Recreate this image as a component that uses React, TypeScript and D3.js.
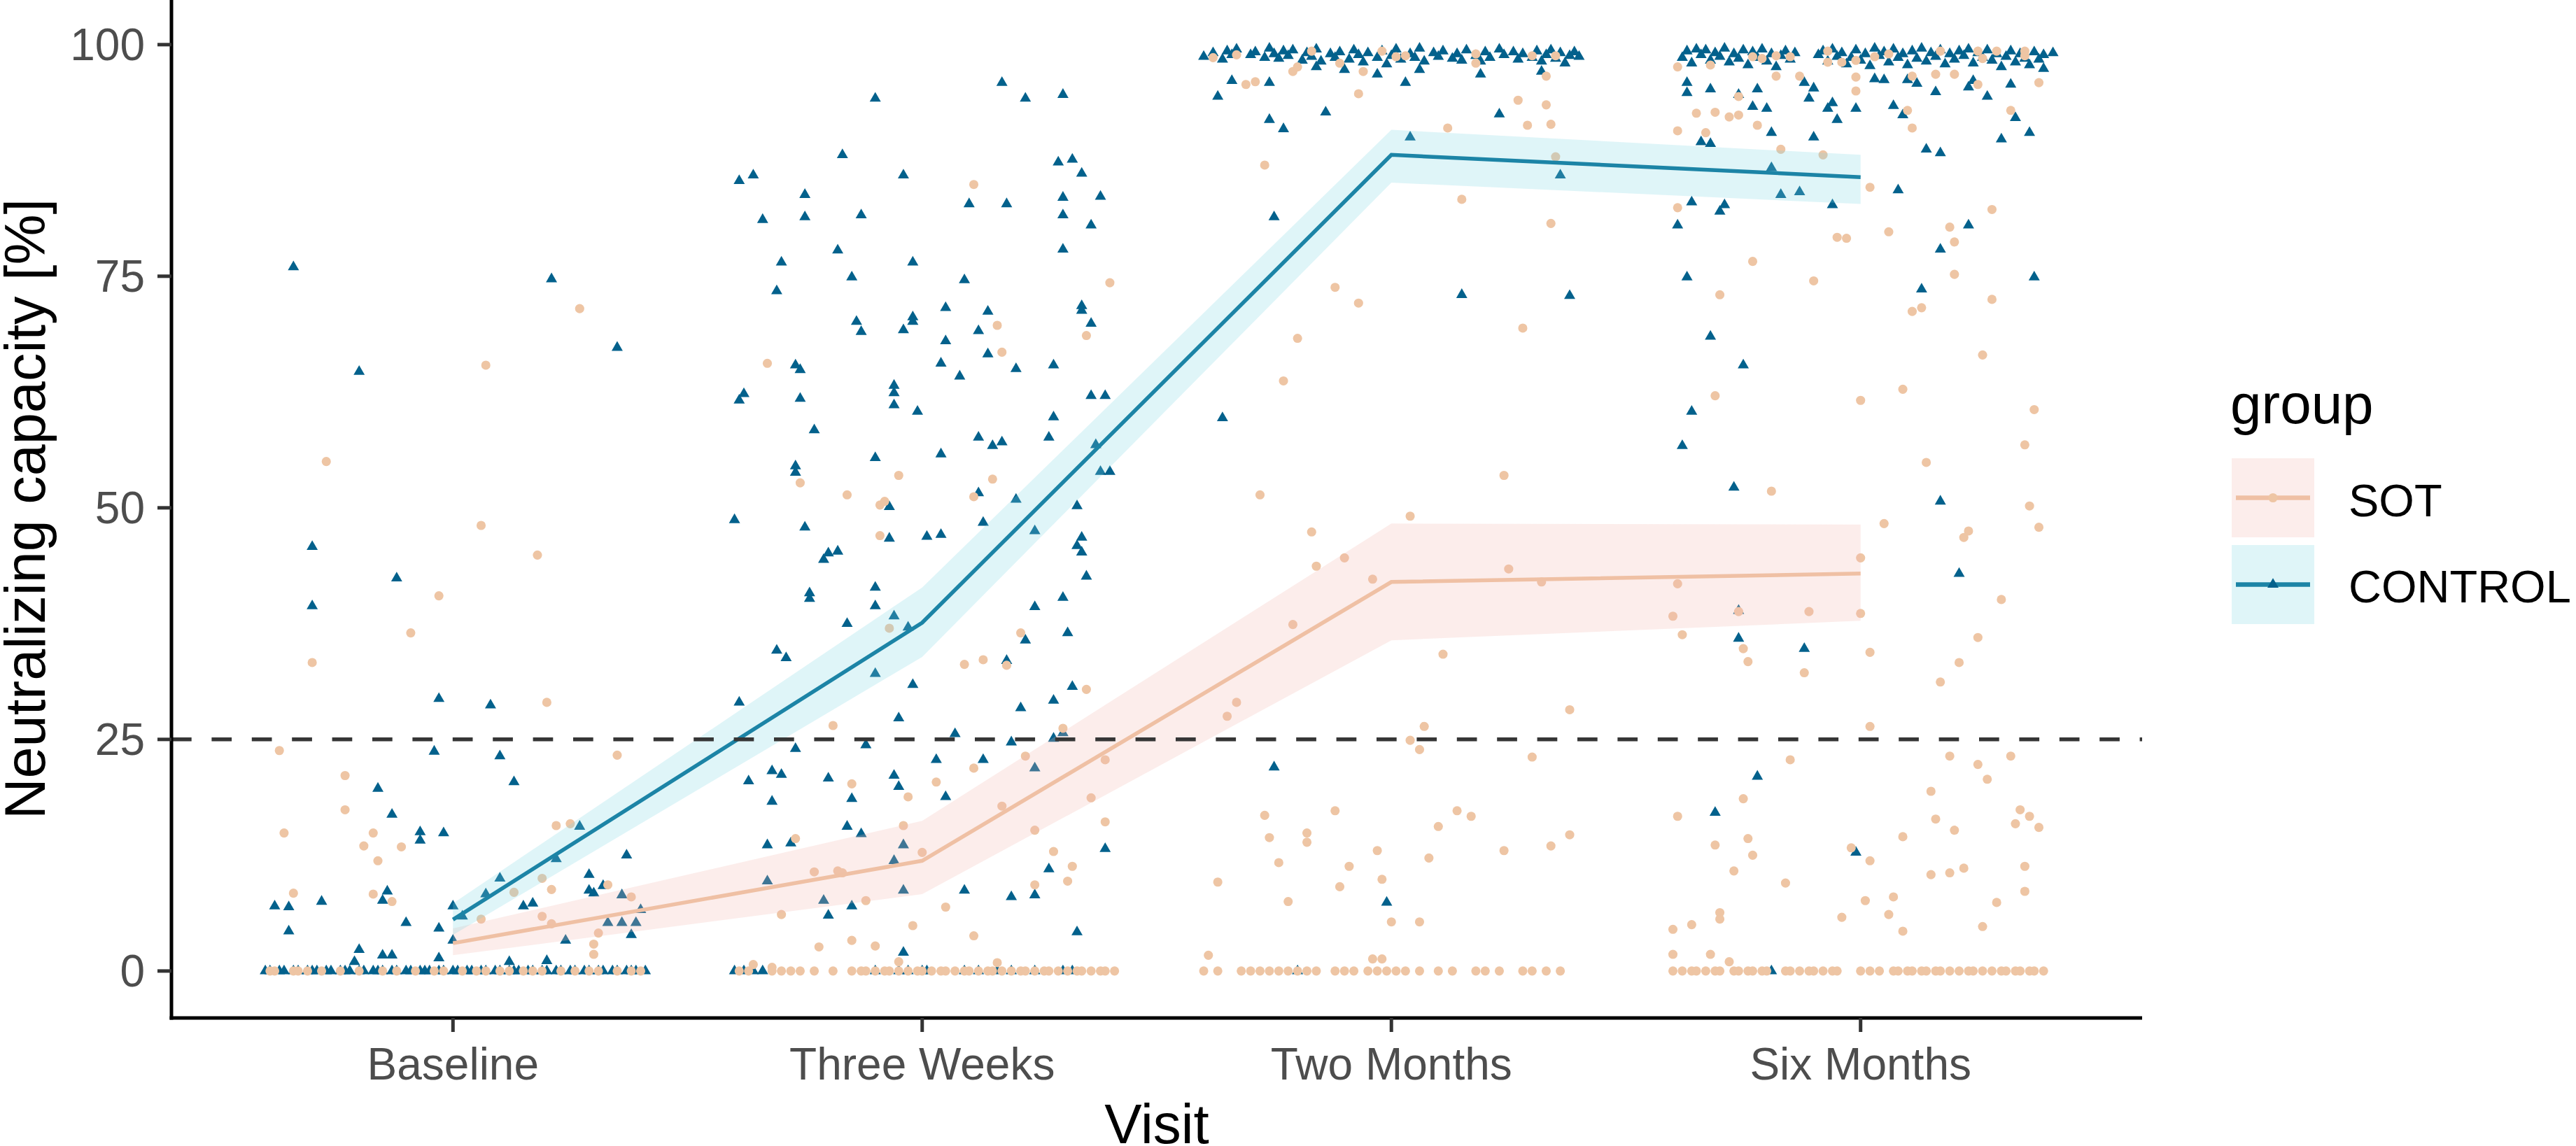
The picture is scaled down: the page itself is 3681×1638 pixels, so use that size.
import React from "react";
import * as d3 from "d3";

const W = 3681;
const H = 1638;

const visits = ["Baseline", "Three Weeks", "Two Months", "Six Months"];
const yTicks = [0, 25, 50, 75, 100];
const threshold = 25;
const groupNames = ["SOT", "CONTROL"];

const sotMean = [3.0, 11.9, 42.0, 42.9];
const sotLower = [1.7, 8.3, 35.7, 37.8];
const sotUpper = [4.6, 16.2, 48.3, 48.2];
const controlMean = [5.55, 37.6, 88.1, 85.7];
const controlLower = [3.9, 33.9, 85.1, 82.8];
const controlUpper = [7.3, 41.4, 90.8, 88.1];

// points: [jitter offset in category units, value]
const controlBaseline: number[][] = [
  [-0.34, 76.0], [0.21, 74.7], [-0.2, 64.7], [0.35, 67.3], [-0.3, 45.8], [-0.3, 39.4], [-0.12, 42.4],
  [-0.03, 29.4], [0.08, 28.7], [-0.04, 23.7], [0.1, 23.2], [0.13, 20.4], [-0.16, 19.7], [-0.13, 16.9],
  [-0.07, 15.0], [-0.07, 14.1], [-0.02, 14.9], [0.27, 15.6], [0.22, 12.1], [0.37, 12.5], [0.1, 10.0],
  [0.07, 8.3], [0.29, 10.4], [0.29, 8.7], [0.3, 8.4], [0.32, 9.2], [0.36, 8.2], [0.4, 6.6], [-0.38, 7.0],
  [-0.35, 6.9], [-0.28, 7.5], [-0.14, 8.6], [-0.15, 7.6], [0.0, 7.0], [-0.35, 4.3], [-0.1, 5.2],
  [-0.03, 4.6], [0.0, 3.3], [0.15, 7.0], [0.17, 7.3], [0.33, 5.2], [0.36, 5.2], [0.39, 5.2], [0.38, 3.9],
  [0.24, 3.3], [-0.2, 2.3], [-0.15, 1.7], [-0.13, 1.7], [-0.03, 1.4], [-0.21, 1.0], [0.12, 1.0],
  [0.2, 1.1], [0.02, 5.9],
];
const controlBaselineZeros = [
  -0.4, -0.39, -0.37, -0.36, -0.34, -0.33, -0.31, -0.3, -0.29, -0.27, -0.26, -0.24, -0.23, -0.22, -0.2,
  -0.19, -0.17, -0.16, -0.15, -0.13, -0.12, -0.1, -0.09, -0.07, -0.06, -0.05, -0.03, -0.02, 0.0, 0.01,
  0.03, 0.04, 0.06, 0.07, 0.09, 0.1, 0.12, 0.13, 0.14, 0.16, 0.17, 0.19, 0.2, 0.22, 0.23, 0.25, 0.26,
  0.28, 0.29, 0.31, 0.32, 0.34, 0.35, 0.37, 0.38, 0.39, 0.41,
];
const sotBaseline: number[][] = [
  [0.27, 71.5], [0.07, 65.4], [-0.27, 55.0], [0.06, 48.1], [0.18, 44.9], [-0.03, 40.5], [-0.09, 36.5],
  [-0.3, 33.3], [0.2, 29.0], [-0.37, 23.8], [0.35, 23.3], [-0.23, 21.1], [-0.23, 17.4], [-0.36, 14.9],
  [-0.17, 14.9], [-0.19, 13.5], [-0.11, 13.4], [-0.16, 11.9], [0.22, 15.7], [0.25, 15.9], [-0.34, 8.4],
  [-0.17, 8.3], [-0.13, 7.5], [0.19, 10.0], [0.13, 8.5], [0.21, 8.8], [0.33, 9.3], [0.38, 8.0],
  [0.06, 5.6], [0.19, 5.9], [0.21, 5.1], [0.31, 4.1], [0.3, 2.9], [0.3, 1.8],
];
const sotBaselineZeros = [
  -0.39, -0.38, -0.34, -0.33, -0.31, -0.28, -0.24, -0.2, -0.15, -0.12, -0.08, -0.04, -0.02, 0.02, 0.05,
  0.07, 0.1, 0.12, 0.15, 0.17, 0.19, 0.23, 0.26, 0.29, 0.31, 0.35, 0.38, 0.4,
];

const controlThreeWeeks: number[][] = [
  [-0.1, 94.2], [0.17, 95.9], [0.22, 94.2], [0.3, 94.6], [-0.17, 88.1], [-0.39, 85.3], [-0.36, 85.9],
  [-0.04, 85.9], [0.29, 87.3], [0.32, 87.6], [0.34, 86.1], [-0.25, 83.8], [-0.25, 81.4], [-0.34, 81.1],
  [-0.13, 81.6], [0.1, 82.8], [0.18, 82.8], [0.3, 83.5], [0.38, 83.6], [0.3, 81.6], [0.36, 80.5],
  [0.3, 77.9], [-0.18, 77.8], [-0.3, 76.5], [-0.02, 76.5], [-0.15, 74.9], [0.09, 74.6], [-0.31, 73.4],
  [0.05, 71.6], [0.14, 71.2], [0.34, 71.8], [0.34, 71.3], [-0.14, 70.1], [-0.13, 69.0], [-0.02, 70.6],
  [-0.02, 70.1], [-0.04, 69.2], [0.12, 69.1], [0.36, 69.9], [0.05, 68.0], [-0.27, 65.4], [-0.26, 64.9],
  [0.04, 65.6], [0.14, 66.6], [0.2, 65.0], [0.28, 65.4], [0.08, 64.2], [-0.39, 61.6], [-0.38, 62.3],
  [-0.26, 61.8], [-0.06, 63.2], [-0.06, 62.4], [-0.06, 61.1], [-0.01, 60.4], [0.36, 62.1], [0.39, 62.1],
  [-0.23, 58.4], [0.28, 59.8], [0.27, 57.6], [0.12, 57.6], [0.15, 56.7], [0.17, 57.1], [-0.1, 55.4],
  [0.04, 55.8], [0.37, 56.8], [0.38, 53.9], [0.4, 53.9], [-0.27, 54.5], [-0.27, 53.8], [0.12, 51.6],
  [0.2, 50.9], [-0.07, 50.1], [0.33, 50.2], [0.13, 48.4], [-0.4, 48.7], [-0.25, 47.9], [0.24, 47.5],
  [-0.07, 46.7], [0.01, 46.9], [0.04, 47.1], [0.34, 46.8], [0.33, 45.9], [0.34, 45.2], [-0.21, 44.4],
  [-0.2, 45.1], [-0.18, 45.3], [0.35, 42.6], [-0.1, 41.4], [-0.24, 40.8], [-0.24, 40.2], [-0.1, 39.4],
  [-0.06, 38.3], [0.24, 39.3], [0.3, 40.3], [-0.16, 37.5], [-0.03, 37.1], [0.31, 36.5], [0.22, 35.7],
  [-0.31, 34.6], [-0.29, 33.8], [0.18, 33.5], [-0.1, 32.1], [-0.02, 30.9], [0.32, 30.7], [0.28, 29.2],
  [0.21, 28.4], [-0.39, 29.0], [-0.05, 27.3], [0.07, 25.6], [0.3, 25.7], [0.28, 25.1], [0.19, 24.7],
  [-0.27, 24.0], [-0.12, 24.4], [0.13, 22.8], [-0.32, 21.6], [-0.3, 21.2], [-0.37, 20.5], [-0.2, 20.8],
  [-0.06, 21.1], [-0.05, 19.9], [0.03, 22.8], [0.24, 21.9], [0.05, 18.8], [-0.32, 18.3], [-0.15, 18.6],
  [-0.16, 15.6], [-0.13, 14.8], [-0.33, 13.6], [-0.28, 13.8], [-0.04, 13.6], [0.39, 13.2], [-0.06, 11.9],
  [0.27, 11.0], [-0.33, 9.7], [-0.04, 8.7], [0.09, 8.7], [0.19, 8.0], [0.24, 8.2], [-0.21, 7.6],
  [-0.2, 6.0], [-0.15, 7.0], [0.33, 4.2], [-0.04, 2.0],
];
const controlThreeWeeksZeros = [
  -0.4, -0.38, -0.36, -0.34, -0.1, -0.05, -0.03, 0.0, 0.01, 0.09, 0.12, 0.16, 0.19, 0.24, 0.3, 0.32,
];
const sotThreeWeeks: number[][] = [
  [0.11, 84.9], [0.4, 74.3], [-0.33, 65.6], [0.16, 69.7], [0.17, 66.8], [0.35, 68.6], [-0.26, 52.7],
  [-0.05, 53.5], [-0.16, 51.4], [0.15, 53.1], [0.11, 51.2], [-0.09, 50.3], [-0.08, 50.7], [-0.09, 47.0],
  [-0.07, 37.0], [0.21, 36.5], [0.09, 33.1], [0.13, 33.6], [0.18, 33.0], [0.35, 30.4], [-0.19, 26.5],
  [0.3, 26.2], [0.22, 23.2], [0.39, 22.8], [-0.15, 20.2], [0.11, 21.9], [0.03, 20.4], [-0.03, 18.8],
  [0.36, 18.7], [-0.04, 15.7], [0.17, 17.8], [0.39, 16.1], [-0.27, 14.3], [0.0, 12.8], [0.24, 15.2],
  [0.28, 12.9], [0.32, 11.3], [-0.23, 10.7], [-0.18, 10.8], [-0.17, 10.6], [0.31, 9.7], [0.24, 9.3],
  [-0.12, 7.6], [-0.3, 6.1], [0.05, 6.9], [-0.02, 4.9], [0.11, 3.8], [-0.22, 2.6], [-0.15, 3.3],
  [-0.1, 2.7], [-0.05, 1.0], [0.16, 0.9], [-0.36, 0.7], [-0.32, 0.4],
];
const sotThreeWeeksZeros = [
  -0.39, -0.37, -0.32, -0.3, -0.28, -0.26, -0.23, -0.19, -0.15, -0.13, -0.12, -0.1, -0.08, -0.07, -0.05,
  -0.03, -0.01, 0.0, 0.02, 0.04, 0.05, 0.07, 0.09, 0.1, 0.12, 0.14, 0.15, 0.17, 0.19, 0.21, 0.22, 0.24,
  0.26, 0.27, 0.29, 0.31, 0.33, 0.34, 0.36, 0.38, 0.39, 0.41,
];

const controlTwoMonths: number[][] = [
  [-0.4, 98.7], [-0.38, 99.1], [-0.36, 98.4], [-0.35, 99.3], [-0.34, 98.9], [-0.33, 99.5],
  [-0.3, 98.9], [-0.29, 99.2], [-0.27, 98.6], [-0.26, 99.6], [-0.25, 99.0], [-0.24, 98.5], [-0.23, 99.3],
  [-0.22, 98.8], [-0.21, 99.4], [-0.19, 98.3], [-0.18, 99.1], [-0.17, 98.7], [-0.16, 99.5], [-0.15, 98.2],
  [-0.13, 99.0], [-0.12, 98.6], [-0.11, 99.2], [-0.09, 98.4], [-0.08, 99.4], [-0.07, 98.9], [-0.06, 98.1],
  [-0.05, 99.1], [-0.03, 98.6], [-0.02, 99.3], [-0.01, 97.9], [0.0, 98.8], [0.01, 99.5], [0.02, 98.4],
  [0.04, 99.0], [0.05, 98.6], [0.06, 99.6], [0.07, 98.2], [0.09, 99.1], [0.1, 98.7], [0.11, 99.3],
  [0.13, 98.5], [0.14, 99.0], [0.15, 98.3], [0.16, 99.4], [0.18, 98.8], [0.19, 98.2], [0.2, 99.2],
  [0.21, 98.6], [0.23, 99.5], [0.24, 98.9], [0.26, 99.2], [0.27, 98.4], [0.28, 99.0], [0.3, 98.6],
  [0.31, 99.3], [0.32, 98.2], [0.33, 98.9], [0.34, 99.4], [0.35, 98.5], [0.36, 99.1], [0.37, 98.0],
  [0.38, 98.8], [0.39, 99.2], [0.4, 98.7],
  [-0.34, 96.1], [-0.26, 95.9], [-0.37, 94.4], [-0.14, 92.7], [-0.26, 91.9], [-0.23, 90.9], [0.04, 90.0],
  [0.03, 95.9], [0.23, 92.5], [0.36, 85.9], [-0.25, 81.4], [0.15, 73.0], [0.38, 72.9], [-0.36, 59.7],
  [-0.25, 22.0], [-0.01, 7.4], [-0.1, 97.3], [-0.03, 96.8], [0.06, 97.3], [0.19, 96.8], [0.32, 97.1],
  [-0.16, 97.6],
];
const controlTwoMonthsZeros = [-0.2];
const sotTwoMonths: number[][] = [
  [-0.38, 98.6], [-0.33, 98.9], [-0.17, 99.3], [-0.02, 99.3], [0.01, 98.7], [0.03, 98.8], [0.18, 99.0],
  [0.3, 98.8], [0.35, 98.8], [-0.11, 98.0], [-0.06, 97.1], [-0.21, 97.1], [-0.2, 97.6], [0.18, 98.0],
  [-0.31, 95.7], [-0.29, 96.0], [-0.07, 94.7], [0.33, 96.6], [0.27, 94.0], [0.33, 93.5], [0.29, 91.3],
  [0.34, 91.4], [0.12, 91.0], [-0.27, 87.0], [0.35, 87.9], [0.15, 83.3], [0.34, 80.7], [-0.12, 73.8],
  [-0.07, 72.1], [0.28, 69.4], [-0.2, 68.3], [-0.23, 63.7], [0.24, 53.5], [-0.28, 51.4], [0.04, 49.1],
  [-0.17, 47.4], [-0.1, 44.6], [-0.16, 43.7], [-0.04, 42.3], [0.25, 43.4], [0.32, 42.0], [-0.21, 37.4],
  [0.11, 34.2], [-0.33, 29.0], [-0.35, 27.5], [0.38, 28.2], [0.07, 26.4], [0.04, 24.9], [0.06, 23.9],
  [0.3, 23.1], [-0.27, 16.8], [-0.12, 17.3], [0.14, 17.3], [0.17, 16.7], [-0.26, 14.4], [-0.18, 14.9],
  [-0.18, 13.9], [0.1, 15.6], [0.38, 14.7], [-0.03, 13.0], [0.08, 12.2], [0.24, 13.0], [0.34, 13.5],
  [-0.24, 11.7], [-0.09, 11.3], [-0.02, 9.9], [-0.37, 9.6], [-0.11, 9.1], [-0.22, 7.5], [0.0, 5.3],
  [0.06, 5.3], [-0.39, 1.7], [-0.04, 1.3], [-0.02, 1.3],
];
const sotTwoMonthsZeros = [
  -0.4, -0.37, -0.32, -0.3, -0.28, -0.26, -0.24, -0.22, -0.2, -0.18, -0.16, -0.12, -0.1, -0.08, -0.05,
  -0.03, -0.01, 0.01, 0.03, 0.06, 0.1, 0.13, 0.18, 0.2, 0.23, 0.28, 0.3, 0.33, 0.36,
];

const controlSixMonths: number[][] = [
  [-0.38, 98.6], [-0.37, 99.3], [-0.36, 98.0], [-0.35, 99.5], [-0.34, 98.9], [-0.33, 99.4], [-0.32, 98.3],
  [-0.31, 99.1], [-0.3, 98.7], [-0.29, 99.6], [-0.28, 98.1], [-0.27, 99.0], [-0.26, 98.5], [-0.25, 99.4],
  [-0.24, 97.8], [-0.23, 99.2], [-0.22, 98.6], [-0.21, 99.5], [-0.2, 98.2], [-0.19, 99.0], [-0.18, 97.6],
  [-0.17, 98.8], [-0.16, 99.3], [-0.15, 98.4], [-0.14, 99.1],
  [-0.09, 98.9], [-0.08, 99.3], [-0.07, 98.2], [-0.06, 99.5], [-0.05, 98.7], [-0.04, 99.1], [-0.03, 97.9],
  [-0.02, 98.6], [-0.01, 99.4], [0.0, 98.3], [0.01, 99.0], [0.02, 97.7], [0.03, 99.6], [0.04, 98.8],
  [0.05, 99.2], [0.06, 98.1], [0.07, 99.5], [0.08, 98.6], [0.09, 99.0], [0.1, 97.8], [0.11, 99.3],
  [0.12, 98.5], [0.13, 99.6], [0.14, 98.2], [0.15, 99.1], [0.16, 98.7], [0.17, 99.4], [0.18, 97.9],
  [0.19, 99.0], [0.2, 98.4], [0.21, 99.3], [0.22, 98.8], [0.23, 99.5], [0.24, 98.0], [0.25, 99.1],
  [0.26, 98.6], [0.27, 99.4], [0.28, 98.3], [0.29, 99.0], [0.3, 97.6], [0.31, 98.7], [0.32, 99.3],
  [0.33, 98.1], [0.34, 99.0], [0.35, 98.5], [0.36, 97.8], [0.37, 99.2], [0.38, 98.4], [0.39, 98.9],
  [0.41, 99.1],
  [-0.37, 95.9], [-0.37, 94.8], [-0.32, 95.2], [-0.22, 95.2], [-0.26, 94.6], [-0.23, 93.3], [-0.2, 93.1],
  [-0.19, 90.5], [-0.34, 89.5], [-0.32, 89.3], [-0.12, 95.9], [-0.11, 94.2], [-0.1, 95.3], [-0.06, 93.7],
  [-0.07, 93.1], [-0.05, 91.9], [-0.01, 93.1], [-0.1, 90.0], [0.03, 96.3], [0.05, 96.2], [0.07, 93.4],
  [0.09, 92.4], [0.1, 96.2], [0.12, 95.8], [0.16, 94.9], [0.14, 88.7], [0.17, 88.3], [0.23, 95.4],
  [0.24, 96.1], [0.27, 94.4], [0.32, 95.7], [0.33, 92.1], [0.36, 90.5], [0.3, 89.8], [0.39, 97.4],
  [-0.19, 86.7], [-0.17, 83.8], [-0.13, 84.1], [-0.36, 83.0], [-0.29, 82.7], [-0.3, 82.0], [-0.06, 82.7],
  [-0.39, 80.5], [0.08, 84.3], [0.23, 80.5], [0.17, 77.9], [-0.37, 74.9], [0.13, 73.6], [0.37, 74.9],
  [-0.32, 68.5], [-0.25, 65.4], [-0.36, 60.4], [-0.38, 56.7], [-0.27, 52.2], [0.17, 50.7], [0.21, 42.9],
  [-0.26, 38.9], [-0.26, 35.9], [-0.12, 34.8], [-0.22, 21.0], [-0.31, 17.1], [-0.01, 12.8],
];
const controlSixMonthsZeros = [-0.19];
const sotSixMonths: number[][] = [
  [-0.39, 97.6], [-0.32, 97.8], [-0.21, 98.5], [-0.18, 98.8], [-0.15, 98.7], [-0.07, 99.3], [-0.07, 98.1],
  [-0.04, 98.1], [-0.01, 98.3], [0.03, 98.7], [0.06, 99.0], [0.17, 99.3], [0.25, 99.3], [0.26, 98.5],
  [0.29, 99.3], [0.35, 98.8], [0.35, 99.3], [-0.23, 98.7], [-0.13, 96.6], [-0.18, 96.6], [-0.01, 96.5],
  [-0.01, 95.0], [0.11, 96.6], [0.16, 96.8], [0.2, 96.8], [0.25, 95.7], [0.38, 95.9], [-0.26, 94.4],
  [-0.35, 92.6], [-0.31, 92.7], [-0.28, 92.2], [-0.26, 92.4], [-0.22, 91.3], [0.1, 92.9], [0.11, 91.0],
  [0.32, 92.9], [-0.39, 90.7], [-0.33, 90.5], [-0.17, 88.7], [-0.08, 88.1], [0.02, 84.6], [-0.39, 82.4],
  [0.28, 82.2], [0.19, 80.3], [0.2, 78.7], [0.06, 79.8], [-0.05, 79.2], [-0.03, 79.1], [-0.23, 76.6],
  [0.2, 75.2], [-0.1, 74.5], [-0.3, 73.0], [0.28, 72.5], [0.11, 71.2], [0.13, 71.6], [0.26, 66.5],
  [0.09, 62.8], [-0.31, 62.1], [0.0, 61.6], [0.37, 60.6], [0.35, 56.8], [0.14, 54.9], [-0.19, 51.8],
  [0.36, 50.2], [0.05, 48.3], [0.38, 47.9], [0.23, 47.5], [0.22, 46.8], [0.0, 44.6], [-0.39, 41.8],
  [-0.4, 38.3], [-0.26, 38.8], [-0.11, 38.8], [0.0, 38.6], [0.3, 40.1], [-0.38, 36.3], [0.25, 36.0],
  [-0.25, 34.8], [-0.24, 33.4], [-0.12, 32.2], [0.02, 34.4], [0.21, 33.3], [0.17, 31.2], [0.02, 26.4],
  [-0.15, 22.8], [0.19, 23.2], [0.25, 22.3], [0.27, 20.7], [0.32, 23.2], [0.15, 19.4], [-0.25, 18.6],
  [-0.39, 16.7], [0.16, 16.4], [0.34, 17.4], [0.33, 15.9], [0.36, 16.7], [0.38, 15.5], [0.2, 15.2],
  [-0.31, 13.6], [-0.24, 14.3], [-0.23, 12.5], [0.09, 14.5], [-0.02, 13.3], [0.02, 11.9], [-0.27, 10.8],
  [-0.16, 9.5], [0.15, 10.4], [0.19, 10.6], [0.22, 11.1], [0.35, 11.3], [0.35, 8.6], [0.01, 7.6],
  [0.07, 8.0], [0.29, 7.4], [-0.3, 6.3], [-0.3, 5.6], [-0.04, 5.8], [0.06, 6.1], [-0.4, 4.5],
  [-0.36, 5.0], [0.09, 4.3], [0.26, 4.8], [-0.4, 1.8], [-0.32, 1.8], [-0.28, 1.0],
];
const sotSixMonthsZeros = [
  -0.4, -0.38, -0.36, -0.35, -0.33, -0.31, -0.3, -0.27, -0.26, -0.24, -0.23, -0.21, -0.2, -0.16, -0.15,
  -0.13, -0.11, -0.1, -0.08, -0.06, -0.05, 0.0, 0.02, 0.04, 0.07, 0.08, 0.1, 0.11, 0.13, 0.14, 0.16,
  0.17, 0.19, 0.21, 0.23, 0.24, 0.26, 0.28, 0.3, 0.31, 0.33, 0.34, 0.36, 0.37, 0.39,
];

const controlPoints = [controlBaseline, controlThreeWeeks, controlTwoMonths, controlSixMonths];
const controlZeros = [controlBaselineZeros, controlThreeWeeksZeros, controlTwoMonthsZeros, controlSixMonthsZeros];
const sotPoints = [sotBaseline, sotThreeWeeks, sotTwoMonths, sotSixMonths];
const sotZeros = [sotBaselineZeros, sotThreeWeeksZeros, sotTwoMonthsZeros, sotSixMonthsZeros];

const FONT = "'Liberation Sans', Arial, Helvetica, sans-serif";
const COL_CTRL_PT = "#03618C";
const COL_CTRL_LINE = "#1C84A6";
const COL_CTRL_RIB = "#7FD8E3";
const COL_SOT_PT = "#EEC5A4";
const COL_SOT_LINE = "#EFC0A4";
const COL_SOT_RIB = "#F5B8AE";

export default function App() {
  const left = 245, right = 3061, top = -2, bottom = 1455;
  const x = d3.scalePoint<string>().domain(visits).range([left, right]).padding(0.6);
  const step = x.step();
  const y = d3.scaleLinear().domain([-5.07, 104.97]).range([bottom, top]);

  const tri = d3.symbol().type(d3.symbolTriangle).size(110)() as string;
  const circ = d3.symbol().type(d3.symbolCircle).size(135)() as string;

  const flat = (pts: number[][][], zeros: number[][]) => {
    const out: { px: number; py: number }[] = [];
    visits.forEach((v, i) => {
      const cx = x(v) as number;
      pts[i].forEach(([o, val]) => out.push({ px: cx + o * step, py: y(val) }));
      zeros[i].forEach((o) => out.push({ px: cx + o * step, py: y(0) }));
    });
    return out;
  };
  const ctrl = flat(controlPoints, controlZeros);
  const sot = flat(sotPoints, sotZeros);

  const area = d3.area<number>().x((_, i) => x(visits[i]) as number);
  const line = d3.line<number>().x((_, i) => x(visits[i]) as number).y((d) => y(d));

  const ribbon = (lo: number[], hi: number[]) =>
    area.y0((_, i) => y(lo[i])).y1((_, i) => y(hi[i]))(lo) as string;

  const legendKeys = [
    { name: groupNames[0], rib: COL_SOT_RIB, line: COL_SOT_LINE, pt: COL_SOT_PT, sym: circ, y0: 655, lab: 737.6 },
    { name: groupNames[1], rib: COL_CTRL_RIB, line: COL_CTRL_LINE, pt: COL_CTRL_PT, sym: tri, y0: 779, lab: 861 },
  ];

  return (
    <svg
      width={W}
      height={H}
      viewBox={`0 0 ${W} ${H}`}
      style={{ position: "absolute", left: 0, top: 0, background: "#fff" }}
    >
      <rect x={0} y={0} width={W} height={H} fill="#fff" />
      <g>
        {ctrl.map((p, i) => (
          <path key={"c" + i} d={tri} transform={`translate(${p.px},${p.py})`} fill={COL_CTRL_PT} />
        ))}
        {sot.map((p, i) => (
          <path key={"s" + i} d={circ} transform={`translate(${p.px},${p.py})`} fill={COL_SOT_PT} />
        ))}
      </g>
      <path d={ribbon(sotLower, sotUpper)} fill={COL_SOT_RIB} fillOpacity={0.25} />
      <path d={ribbon(controlLower, controlUpper)} fill={COL_CTRL_RIB} fillOpacity={0.25} />
      <path d={line(sotMean) as string} fill="none" stroke={COL_SOT_LINE} strokeWidth={5.5} />
      <path d={line(controlMean) as string} fill="none" stroke={COL_CTRL_LINE} strokeWidth={5.5} />
      <line
        x1={left}
        x2={right}
        y1={y(threshold)}
        y2={y(threshold)}
        stroke="#363636"
        strokeWidth={5.5}
        strokeDasharray="28.7 28.7"
      />
      <line x1={left} x2={left} y1={0} y2={bottom + 2.5} stroke="#000" strokeWidth={5} />
      <line x1={left - 2.5} x2={right} y1={bottom} y2={bottom} stroke="#000" strokeWidth={5} />
      {yTicks.map((t) => (
        <g key={"yt" + t}>
          <line x1={left - 20} x2={left} y1={y(t)} y2={y(t)} stroke="#333" strokeWidth={5} />
          <text x={207} y={y(t)} dy="0.35em" textAnchor="end" fontFamily={FONT} fontSize={64} fill="#4D4D4D">
            {t}
          </text>
        </g>
      ))}
      {visits.map((v) => (
        <g key={"xt" + v}>
          <line x1={x(v)} x2={x(v)} y1={bottom} y2={bottom + 20} stroke="#333" strokeWidth={5} />
          <text x={x(v)} y={1543} textAnchor="middle" fontFamily={FONT} fontSize={64} fill="#4D4D4D">
            {v}
          </text>
        </g>
      ))}
      <text x={(left + right) / 2} y={1634} textAnchor="middle" fontFamily={FONT} fontSize={80} fill="#000">
        Visit
      </text>
      <text
        transform={`translate(64,${(0 + bottom) / 2}) rotate(-90)`}
        textAnchor="middle"
        fontFamily={FONT}
        fontSize={81}
        fill="#000"
      >
        Neutralizing capacity [%]
      </text>
      <text x={3187} y={605} fontFamily={FONT} fontSize={80} fill="#000">
        group
      </text>
      {legendKeys.map((k) => (
        <g key={k.name}>
          <rect x={3189} y={k.y0} width={118} height={113} fill={k.rib} fillOpacity={0.25} />
          <line x1={3195} x2={3301} y1={k.y0 + 56.5} y2={k.y0 + 56.5} stroke={k.line} strokeWidth={6.5} />
          <path d={k.sym} transform={`translate(3248,${k.y0 + 56.5})`} fill={k.pt} />
          <text x={3356} y={k.lab} fontFamily={FONT} fontSize={65} fill="#000">
            {k.name}
          </text>
        </g>
      ))}
    </svg>
  );
}
